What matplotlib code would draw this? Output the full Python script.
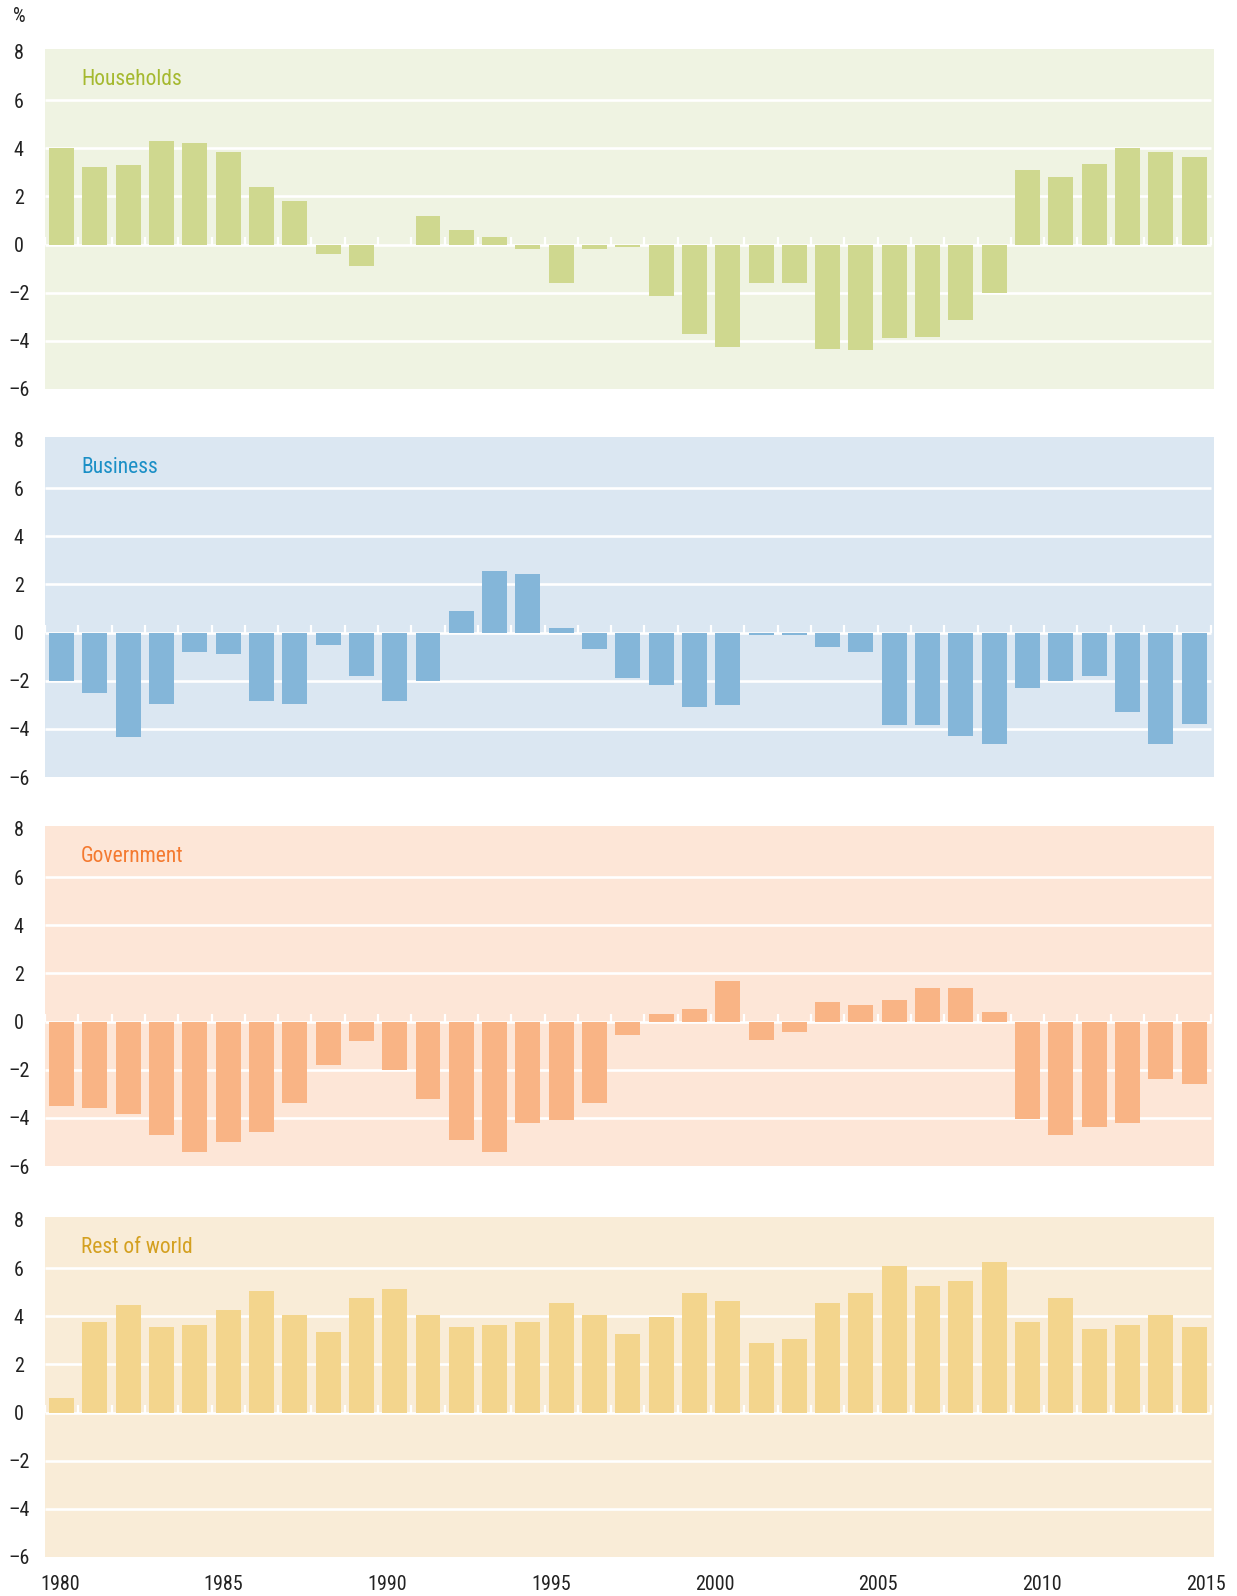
import matplotlib
matplotlib.use("Agg")
import matplotlib.pyplot as plt
import numpy as np
from matplotlib import font_manager

years = list(range(1980, 2015))
households = [4.0, 3.2, 3.3, 4.3, 4.2, 3.85, 2.4, 1.8, -0.4, -0.9, 0.0, 1.2, 0.6, 0.3, -0.2,
              -1.6, -0.2, -0.1, -2.15, -3.7, -4.25, -1.6, -1.6, -4.35, -4.4, -3.9, -3.85, -3.15,
              -2.0, 3.1, 2.8, 3.35, 4.0, 3.85, 3.65]
business = [-2.0, -2.5, -4.35, -2.95, -0.8, -0.9, -2.85, -2.95, -0.5, -1.8, -2.85, -2.0, 0.9,
            2.55, 2.45, 0.2, -0.7, -1.9, -2.2, -3.1, -3.0, -0.1, -0.1, -0.6, -0.8, -3.85, -3.85,
            -4.3, -4.65, -2.3, -2.0, -1.8, -3.3, -4.65, -3.8]
government = [-3.5, -3.6, -3.85, -4.7, -5.4, -5.0, -4.6, -3.4, -1.8, -0.8, -2.0, -3.2, -4.9,
              -5.4, -4.2, -4.1, -3.4, -0.55, 0.3, 0.5, 1.7, -0.75, -0.45, 0.8, 0.7, 0.9, 1.4,
              1.4, 0.4, -4.05, -4.7, -4.4, -4.2, -2.4, -2.6]
rest_of_world = [0.6, 3.75, 4.45, 3.55, 3.65, 4.25, 5.05, 4.05, 3.35, 4.75, 5.15, 4.05, 3.55,
                 3.65, 3.75, 4.55, 4.05, 3.25, 3.95, 4.95, 4.65, 2.9, 3.05, 4.55, 4.95, 6.1,
                 5.25, 5.45, 6.25, 3.75, 4.75, 3.45, 3.65, 4.05, 3.55]
panel_titles = ["Households", "Business", "Government", "Rest of world"]
year_labels = ["1980", "1985", "1990", "1995", "2000", "2005", "2010", "2015"]
y_ticks = [8, 6, 4, 2, 0, -2, -4, -6]

series = [households, business, government, rest_of_world]
bg_colors = ["#EFF3E2", "#DBE7F2", "#FDE6D7", "#F9ECD7"]
bar_colors = ["#CFD88F", "#84B6D9", "#F9B485", "#F3D58D"]
title_colors = ["#A5B92F", "#1A8FC6", "#F47A30", "#D4A020"]

available = {f.name for f in font_manager.fontManager.ttflist}
candidates = ["Roboto Condensed", "Archivo Narrow", "PT Sans Narrow", "Liberation Sans Narrow",
              "Fira Sans Condensed", "IBM Plex Sans Condensed", "Encode Sans Condensed",
              "Open Sans Condensed", "Pragati Narrow"]
fam = next((c for c in candidates if c in available), "DejaVu Sans")
plt.rcParams["font.family"] = [fam, "DejaVu Sans"]

W, H = 1237, 1596
fig = plt.figure(figsize=(W / 100, H / 100), dpi=100)

left_px, right_px = 45, 1214
panel_tops = [49, 437, 826, 1217]
panel_h = 340

xl = (1979.5, 2014.6)
for i, vals in enumerate(series):
    top = panel_tops[i]
    ax = fig.add_axes([left_px / W, 1 - (top + panel_h) / H, (right_px - left_px) / W, panel_h / H])
    ax.set_facecolor(bg_colors[i])
    for s in ax.spines.values():
        s.set_visible(False)
    ax.set_xlim(*xl)
    ax.set_ylim(-6, 8.12)
    for g in [-4, -2, 0, 2, 4, 6]:
        ax.hlines(g, 1979.5, 2014.5, colors="white", linewidth=1.9, zorder=1)
    ax.bar(years, vals, width=0.75, color=bar_colors[i], zorder=2)
    bounds = np.arange(1979.5, 2015.0, 1.0)
    ax.vlines(bounds, 0, 0.33, colors="white", linewidth=1.6, zorder=1.5)
    ax.set_yticks(y_ticks)
    ax.set_yticklabels([str(v).replace("-", "\u2013") for v in y_ticks])
    ax.tick_params(axis="y", length=0, pad=19, labelsize=14.5, labelcolor="#222222")
    for lab in ax.get_yticklabels():
        lab.set_horizontalalignment("center")
    ax.text(1980.58, 6.85, panel_titles[i], color=title_colors[i], fontsize=15.5,
            va="center", ha="left")
    if i < 3:
        ax.set_xticks([])
    else:
        pos = np.linspace(1979.95, 2014.35, len(year_labels))
        ax.set_xticks(pos)
        ax.set_xticklabels(year_labels)
        ax.tick_params(axis="x", length=0, pad=13, labelsize=14.5, labelcolor="#222222")

fig.text(19 / W, 1 - 17 / H, "%", fontsize=14.5, color="#222222", ha="center", va="center")

fig.savefig("out.png", dpi=100, facecolor="white")
